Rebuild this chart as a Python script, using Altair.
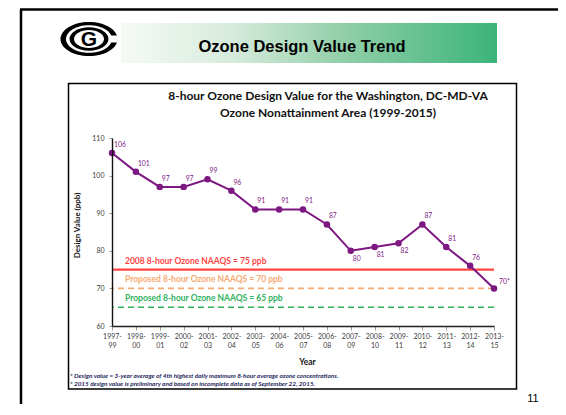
import altair as alt
import pandas as pd

# ---------------- data ----------------
periods = ["1997-99", "1998-00", "1999-01", "2000-02", "2001-03", "2002-04",
           "2003-05", "2004-06", "2005-07", "2006-08", "2007-09", "2008-10",
           "2009-11", "2010-12", "2011-13", "2012-14", "2013-15"]
design_values = [106, 101, 97, 97, 99, 96, 91, 91, 91, 87, 80, 81, 82, 87, 81, 76, 70]
value_labels = ["106", "101", "97", "97", "99", "96", "91", "91", "91", "87",
                "80", "81", "82", "87", "81", "76", "70*"]
label_side = ["above"] * 10 + ["below"] * 3 + ["above"] * 3 + ["right"]

standard_values = [75, 70, 65]
standard_labels = ["2008 8-hour Ozone NAAQS = 75 ppb",
                   "Proposed 8-hour Ozone NAAQS = 70 ppb",
                   "Proposed 8-hour Ozone NAAQS = 65 ppb"]
standard_line_colors = ["#ff4444", "#f8aa70", "#2fb25e"]
standard_text_colors = ["#ff2a2a", "#f39a58", "#22a455"]
standard_dashes = [[1, 0], [6, 4], [6, 4]]
standard_widths = [2.2, 1.6, 1.6]

y_ticks = [60, 70, 80, 90, 100, 110]

slide_title = "Ozone Design Value Trend"
chart_title = ["8-hour Ozone Design Value for the Washington, DC-MD-VA",
               "Ozone Nonattainment Area (1999-2015)"]
footnotes = ["* Design value = 3-year average of 4th highest daily maximum 8-hour average ozone concentrations.",
             "* 2015 design value is preliminary and based on incomplete data as of September 22, 2015."]
page_number = "11"

# ---------------- tables ----------------
df = pd.DataFrame({"period": periods, "value": design_values,
                   "label": value_labels, "side": label_side})
std = pd.DataFrame({"v": standard_values, "name": standard_labels})
one = pd.DataFrame({"d": [0]})

W, H = 382, 188
PURPLE = "#7d1782"
FONT = "Lato"

xscale = alt.Scale(type="point", padding=0, domain=periods)
yscale = alt.Scale(domain=[60, 110], nice=False, zero=False)
xaxis = alt.Axis(title="Year", labelAngle=0,
                 labelExpr="[substring(datum.label,0,5), substring(datum.label,5)]",
                 labelFont=FONT, labelFontSize=7, labelColor="#404040",
                 labelLineHeight=9, labelPadding=2,
                 tickSize=4, tickColor="#9a9a9a", domainColor="#222222", domainWidth=1.4,
                 titleFont=FONT, titleFontSize=8.5, titleFontWeight="bold", titleColor="#111111",
                 titleX=195, titleY=35, titleBaseline="middle", titleAnchor="middle",
                 grid=False, zindex=1)
yaxis = alt.Axis(title="Design Value (ppb)", values=y_ticks,
                 labelFont=FONT, labelFontSize=7, labelColor="#404040", labelPadding=5,
                 tickSize=3, tickColor="#9a9a9a", domainColor="#111111", domainWidth=1.4,
                 titleFont=FONT, titleFontSize=8, titleFontWeight="bold", titleColor="#111111",
                 titleX=-35, titleY=87, titleAngle=-90, titleBaseline="middle",
                 titleAlign="center", grid=False, zindex=1)


def X(field="period:O"):
    return alt.X(field, scale=xscale, axis=xaxis)


def Y(field="value:Q"):
    return alt.Y(field, scale=yscale, axis=yaxis)


base = alt.Chart(df)

line = base.mark_line(color=PURPLE, strokeWidth=2).encode(x=X(), y=Y())
pts = base.mark_point(filled=True, size=42, opacity=1, color=PURPLE).encode(x=X(), y=Y())

lab_above = base.transform_filter(alt.datum.side == "above").mark_text(
    align="left", baseline="middle", dx=2, dy=-8, font=FONT, fontSize=6.8, color=PURPLE
).encode(x=X(), y=Y(), text="label:N")
lab_below = base.transform_filter(alt.datum.side == "below").mark_text(
    align="left", baseline="middle", dx=2, dy=8, font=FONT, fontSize=6.8, color=PURPLE
).encode(x=X(), y=Y(), text="label:N")
lab_right = base.transform_filter(alt.datum.side == "right").mark_text(
    align="left", baseline="middle", dx=5, dy=-6, font=FONT, fontSize=6.8, color=PURPLE
).encode(x=X(), y=Y(), text="label:N")

std_rules = alt.Chart(std).mark_rule().encode(
    y=Y("v:Q"),
    color=alt.Color("name:N", scale=alt.Scale(domain=standard_labels, range=standard_line_colors), legend=None),
    strokeDash=alt.StrokeDash("name:N", scale=alt.Scale(domain=standard_labels, range=standard_dashes), legend=None),
    strokeWidth=alt.StrokeWidth("name:N", scale=alt.Scale(domain=standard_labels, range=standard_widths), legend=None),
)
std_text = alt.Chart(std).mark_text(
    align="left", baseline="middle", dy=-9, font=FONT, fontSize=8.5, fontWeight="bold"
).encode(
    x=alt.value(13), y=Y("v:Q"), text="name:N",
    color=alt.Color("name:N", scale=alt.Scale(domain=standard_labels, range=standard_text_colors), legend=None),
)

# ---------------- slide decorations (pixels relative to plot origin) ----------------
deco = alt.Chart(one)

slide_top = deco.mark_rule(color="black", strokeWidth=2.5).encode(
    x=alt.value(-92), x2=alt.value(446), y=alt.value(-128.5))
slide_left = deco.mark_rule(color="black", strokeWidth=2.5).encode(
    x=alt.value(-91), y=alt.value(-128.5), y2=alt.value(266))

banner = deco.mark_rect(
    fill=alt.LinearGradient(
        gradient="linear",
        stops=[alt.GradientStop(color="#f6faf6", offset=0),
               alt.GradientStop(color="#d6ebdc", offset=0.3),
               alt.GradientStop(color="#8fcea6", offset=0.6),
               alt.GradientStop(color="#3bb479", offset=1)],
        x1=0, x2=1, y1=0, y2=0)
).encode(x=alt.value(9), x2=alt.value(385), y=alt.value(-115), y2=alt.value(-75))
banner_text = deco.mark_text(
    font="Liberation Sans", fontSize=16.5, fontWeight="bold", color="black",
    align="center", baseline="middle"
).encode(x=alt.value(190), y=alt.value(-91), text=alt.value(slide_title))

ELLIPSE = ("M -1 0 C -1 -0.331 -0.552 -0.6 0 -0.6 C 0.552 -0.6 1 -0.331 1 0 "
           "C 1 0.331 0.552 0.6 0 0.6 C -0.552 0.6 -1 0.331 -1 0 Z")
LX, LY = -23, -99


def ell(rx, col):
    return deco.mark_point(shape=ELLIPSE, filled=True, opacity=1, strokeWidth=0,
                           size=(2 * rx) ** 2, color=col).encode(
        x=alt.value(LX), y=alt.value(LY))


logo = [
    ell(28.5, "black"),
    deco.mark_rect(color="white").encode(x=alt.value(-5), x2=alt.value(8),
                                          y=alt.value(-102.5), y2=alt.value(-95.5)),
    ell(23, "white"),
    ell(19.5, "black"),
    ell(15, "white"),
    deco.mark_text(font="Liberation Sans", fontSize=21, fontWeight="bold", color="black",
                   align="center", baseline="middle").encode(
        x=alt.value(LX), y=alt.value(LY + 1), text=alt.value("G")),
]

box = deco.mark_rect(filled=False, stroke="black", strokeWidth=1.5).encode(
    x=alt.value(-43.5), x2=alt.value(404.5), y=alt.value(-54.5), y2=alt.value(251))

title1 = deco.mark_text(font=FONT, fontSize=12, fontWeight="bold", color="#111111",
                        align="center", baseline="middle").encode(
    x=alt.value(216), y=alt.value(-42), text=alt.value(chart_title[0]))
title2 = deco.mark_text(font=FONT, fontSize=12, fontWeight="bold", color="#111111",
                        align="center", baseline="middle").encode(
    x=alt.value(216), y=alt.value(-25), text=alt.value(chart_title[1]))

foot1 = deco.mark_text(font=FONT, fontSize=6.4, fontWeight="bold", fontStyle="italic",
                       color="#1c1f5c", align="left", baseline="middle").encode(
    x=alt.value(-42), y=alt.value(237.5), text=alt.value(footnotes[0]))
foot2 = deco.mark_text(font=FONT, fontSize=6.4, fontWeight="bold", fontStyle="italic",
                       color="#1c1f5c", align="left", baseline="middle").encode(
    x=alt.value(-42), y=alt.value(245.5), text=alt.value(footnotes[1]))
pnum = deco.mark_text(font="Liberation Sans", fontSize=11, color="black",
                      align="center", baseline="middle").encode(
    x=alt.value(421), y=alt.value(261), text=alt.value(page_number))

chart = alt.layer(
    slide_top, slide_left, banner, *logo, banner_text, box, title1, title2,
    std_rules, std_text, line, pts, lab_above, lab_below, lab_right,
    foot1, foot2, pnum,
).properties(
    width=W, height=H,
    padding={"left": 104, "top": 130, "right": 64, "bottom": 78},
    autosize=alt.AutoSizeParams(type="none"),
    background="white",
).configure_view(stroke=None)

chart.save("out.html", embed_options={"renderer": "svg", "actions": False})
